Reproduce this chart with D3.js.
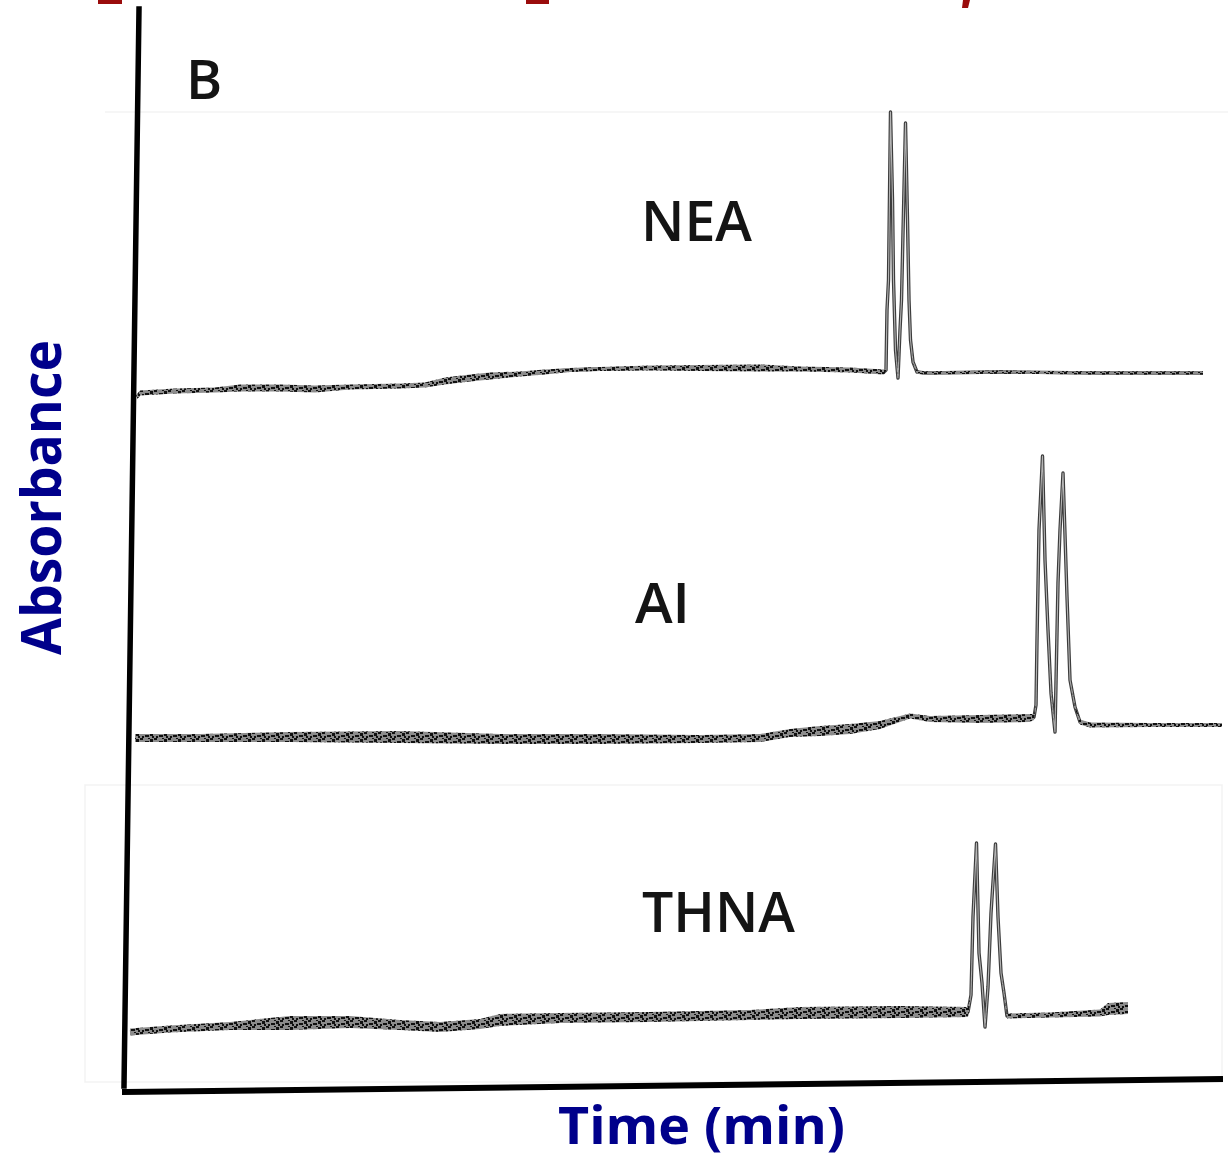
<!DOCTYPE html>
<html>
<head>
<meta charset="utf-8">
<script src="https://cdn.jsdelivr.net/npm/d3@7"></script>
<style>
  html, body { margin: 0; padding: 0; background: #fff; }
  svg { display: block; }
</style>
</head>
<body>
<div id="chart"></div>
<script>
// Chromatogram traces: [time (min), absorbance (a.u.), noise half-band]
const neaTrace = [
  [0.07, 688, 2], [0.10, 692, 2.5], [0.45, 694, 2.5], [0.85, 695, 2.5], [1.10, 697, 3.5],
  [1.50, 697, 3.5], [1.85, 696, 3.5], [2.20, 698, 2.5], [2.70, 699, 2.5], [2.95, 700, 2.5],
  [3.15, 704, 3.5], [3.40, 707, 3.5], [3.60, 709, 3.5], [3.90, 711, 2.5], [4.15, 713, 2.5],
  [4.40, 715, 2], [4.70, 716, 2], [5.20, 717, 2.5], [5.70, 717, 3], [6.30, 717, 3.5],
  [6.70, 716, 2.5], [7.20, 715, 2.5], [7.54, 713, 2.5], [7.56, 715, 1], [7.57, 775, 0],
  [7.585, 805, 0], [7.605, 973, 0], [7.625, 885, 0], [7.635, 805, 0], [7.655, 735, 0],
  [7.68, 707, 2], [7.70, 755, 0], [7.715, 785, 0], [7.755, 962, 0], [7.775, 865, 0],
  [7.79, 785, 0], [7.805, 745, 0], [7.83, 723, 1], [7.87, 713, 1.5], [7.95, 712, 1.5],
  [8.70, 713, 1.5], [9.70, 712, 1.5], [10.73, 712, 1.5]
];

const aiTrace = [
  [0.05, 347, 4], [0.70, 347, 4], [1.60, 348, 5], [2.70, 348, 6], [3.70, 346, 5],
  [4.70, 346, 5], [5.70, 346, 4], [6.30, 347, 4], [6.60, 352, 4], [6.90, 354, 5],
  [7.20, 356, 5], [7.50, 360, 4], [7.80, 369, 2.5], [8.00, 366, 3], [8.50, 366, 4],
  [9.00, 367, 4], [9.04, 368, 3], [9.06, 380, 1], [9.07, 445, 0], [9.09, 555, 0],
  [9.125, 629, 0], [9.15, 525, 0], [9.18, 455, 0], [9.21, 392, 1], [9.25, 353, 1],
  [9.28, 502, 0], [9.30, 555, 0], [9.33, 612, 0], [9.37, 488, 0], [9.40, 405, 0],
  [9.45, 378, 1.5], [9.50, 363, 2.5], [9.60, 360, 2.5], [10.20, 360, 2], [10.92, 360, 2]
];

const thnaTrace = [
  [0.00, 53, 3.5], [0.40, 56, 3.5], [1.00, 59, 4], [1.60, 62, 7], [2.20, 63, 6],
  [2.70, 60, 5], [3.10, 58, 5], [3.50, 61, 5], [3.70, 65, 6], [4.30, 67, 5],
  [5.20, 68, 5], [6.20, 70, 5], [6.70, 72, 6], [7.70, 73, 6], [8.38, 73, 5],
  [8.41, 90, 1], [8.43, 168, 0], [8.465, 242, 0], [8.49, 132, 0], [8.52, 102, 0],
  [8.55, 58, 1], [8.58, 98, 0], [8.61, 172, 0], [8.655, 241, 0], [8.68, 168, 0],
  [8.71, 112, 0], [8.74, 92, 1], [8.77, 69, 2.5], [9.20, 70, 2.5], [9.70, 72, 3.5],
  [9.78, 76, 6], [9.98, 77, 6]
];

const traceNames = ['NEA', 'AI', 'THNA'];
const panelLetter = 'B';
const xTitle = 'Time (min)';
const yTitle = 'Absorbance';

const width = 1228;
const height = 1159;

const x = d3.scaleLinear().domain([0, 11]).range([130, 1230]);
const y = d3.scaleLinear().domain([0, 1080]).range([1085, 5]);

const svg = d3.select('#chart')
  .append('svg')
  .attr('width', width)
  .attr('height', height);

// texture for the noisy baseline band
const defs = svg.append('defs');
const pat = defs.append('pattern')
  .attr('id', 'noise')
  .attr('patternUnits', 'userSpaceOnUse')
  .attr('width', 14)
  .attr('height', 6);
pat.append('rect').attr('width', 14).attr('height', 6).attr('fill', '#8c8c8c');
[[0, 0, 3, 2], [5, 3, 4, 2], [10, 1, 3, 3], [2, 4, 2, 2], [8, 0, 2, 1], [12, 4, 2, 2]].forEach(r => {
  pat.append('rect')
    .attr('x', r[0]).attr('y', r[1])
    .attr('width', r[2]).attr('height', r[3])
    .attr('fill', '#111');
});

// faint edges of the pasted-in original scans
const frame = svg.append('g')
  .attr('stroke', '#f3f3f3')
  .attr('stroke-width', 1.5)
  .attr('fill', 'none');
frame.append('path').attr('d', `M${x(-0.25)},${y(973)}H${width}`);
frame.append('path').attr('d', `M${x(-0.45)},${y(300)}H${x(10.92)}V${y(3)}H${x(-0.45)}Z`);

// cut-off title fragments at the very top
const red = svg.append('g').attr('fill', '#9a0c0c');
red.append('rect').attr('x', 98).attr('y', 0).attr('width', 24).attr('height', 4);
red.append('rect').attr('x', 526).attr('y', 0).attr('width', 23).attr('height', 4);
red.append('path').attr('d', 'M963,0h7l-2,8h-6z');

// traces
const traces = [neaTrace, aiTrace, thnaTrace];

const band = d3.area()
  .x(d => x(d[0]))
  .y0(d => y(d[1]) - d[2])
  .y1(d => y(d[1]) + d[2]);

const line = d3.line()
  .x(d => x(d[0]))
  .y(d => y(d[1]));

const traceG = svg.append('g').attr('class', 'traces');

traces.forEach(trace => {
  // scanned pen trace: dark outline with a lighter core
  traceG.append('path')
    .datum(trace)
    .attr('d', line)
    .attr('fill', 'none')
    .attr('stroke', '#3c3c3c')
    .attr('stroke-width', 3.4)
    .attr('stroke-linejoin', 'round');
  traceG.append('path')
    .datum(trace)
    .attr('d', line)
    .attr('fill', 'none')
    .attr('stroke', '#b4b4b4')
    .attr('stroke-width', 1.1)
    .attr('stroke-linejoin', 'round');
  traceG.append('path')
    .datum(trace)
    .attr('d', band)
    .attr('fill', 'url(#noise)')
    .attr('stroke', 'none');
});

// compound labels (time, absorbance at baseline, ink width)
const labelPos = [[5.11, 844, 111], [5.05, 462, 55], [5.12, 153, 153]];
svg.append('g')
  .selectAll('text')
  .data(traceNames)
  .enter()
  .append('text')
  .attr('x', (d, i) => x(labelPos[i][0]))
  .attr('y', (d, i) => y(labelPos[i][1]))
  .attr('textLength', (d, i) => labelPos[i][2])
  .attr('lengthAdjust', 'spacingAndGlyphs')
  .attr('font-family', '"Open Sans", sans-serif')
  .attr('font-weight', 600)
  .attr('font-size', 56)
  .attr('fill', '#141414')
  .text(d => d);

svg.append('text')
  .attr('x', x(0.56))
  .attr('y', y(986))
  .attr('font-family', '"Open Sans", sans-serif')
  .attr('font-weight', 600)
  .attr('font-size', 55)
  .attr('fill', '#141414')
  .text(panelLetter);

// hand-drawn axes (slightly skewed like the original)
const axes = svg.append('g')
  .attr('stroke', '#000')
  .attr('fill', 'none')
  .attr('stroke-linecap', 'square');
axes.append('line')
  .attr('x1', x(0.09)).attr('y1', y(1076))
  .attr('x2', x(-0.06)).attr('y2', y(-1))
  .attr('stroke-width', 5.5);
axes.append('line')
  .attr('x1', x(-0.05)).attr('y1', y(-7))
  .attr('x2', x(10.9)).attr('y2', y(6))
  .attr('stroke-width', 6);

// axis titles
svg.append('text')
  .attr('x', 558)
  .attr('y', 1144)
  .attr('textLength', 287)
  .attr('lengthAdjust', 'spacingAndGlyphs')
  .attr('font-family', '"Open Sans", sans-serif')
  .attr('font-weight', 700)
  .attr('font-size', 52)
  .attr('fill', '#00008b')
  .text(xTitle);

svg.append('text')
  .attr('transform', 'translate(61,655) rotate(-90)')
  .attr('textLength', 315)
  .attr('lengthAdjust', 'spacingAndGlyphs')
  .attr('font-family', '"Open Sans", sans-serif')
  .attr('font-weight', 700)
  .attr('font-size', 55)
  .attr('fill', '#00008b')
  .text(yTitle);
</script>
</body>
</html>
